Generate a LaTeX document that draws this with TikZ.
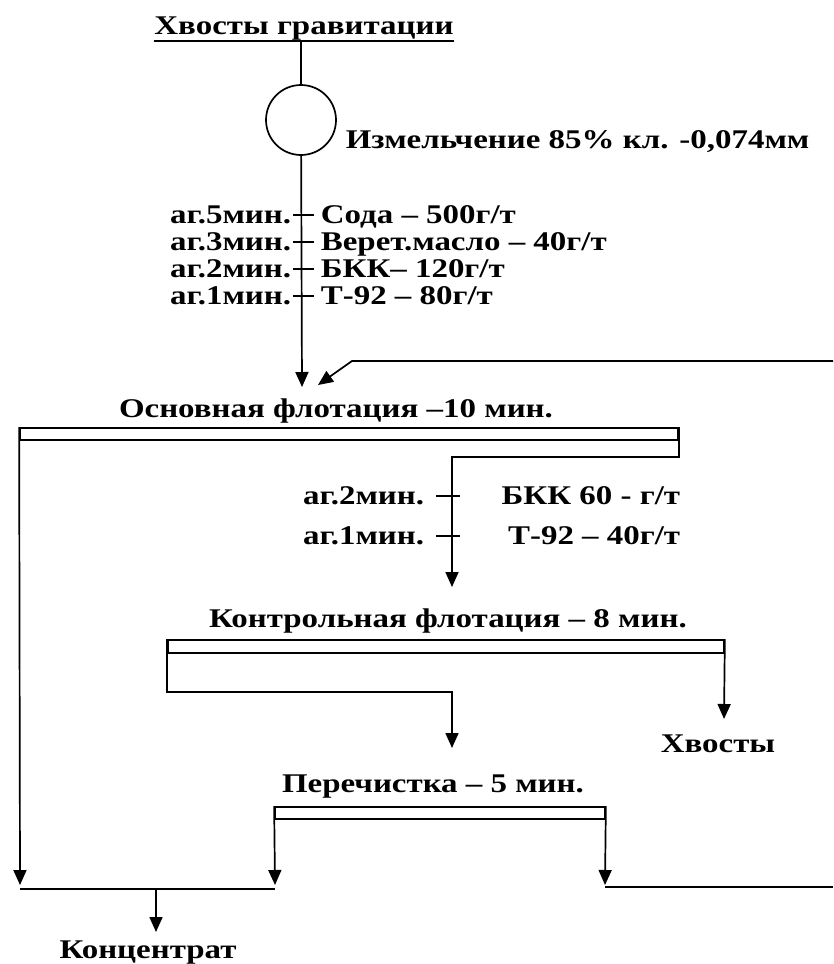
\documentclass[tikz,border=0pt]{standalone}
\usepackage{fontspec}
\setmainfont{Liberation Serif}[BoldFont={Liberation Serif Bold},FakeStretch=1.22]
\usetikzlibrary{arrows.meta}

\tikzset{
  flow/.style={-{Triangle[length=15pt,width=13pt]}},
  cell/.style={draw,rectangle,minimum height=12pt,inner sep=0pt},
  lbl/.style={inner sep=0pt,font=\fontsize{27}{29}\selectfont\bfseries}
}

\begin{document}
\begin{tikzpicture}[x=1pt,y=-1pt,line width=1.7pt]
        \useasboundingbox (0,0) rectangle (833,964);
        \node[lbl,anchor=base] (title) at (304,34) {Хвосты гравитации};
        \draw ([yshift=-7pt]title.base west) -- ([yshift=-7pt]title.base east);
        \coordinate (t0) at (301,41);
        \node[circle,draw,minimum size=70pt,inner sep=0pt] (mill) at (301,120) {};
        \draw (t0) -- (mill);
        \node[lbl,anchor=base west] (grind) at (345,148) {Измельчение 85\% кл. -0,074мм};
        \foreach \i/\y/\a/\b in {1/223/{аг.5мин.}/{Сода – 500г/т},2/250/{аг.3мин.}/{Верет.масло – 40г/т},3/277/{аг.2мин.}/{БКК– 120г/т},4/304/{аг.1мин.}/{Т-92 – 80г/т}} {
          \node[lbl,anchor=base east] (ag\i) at (292,\y) {\a};
          \node[lbl,anchor=base west] (re\i) at (320,\y) {\b};
          \draw (293,\y-8) -- (314,\y-8);
        }
        \coordinate (in1) at (302,387);
        \coordinate (in2) at (318,385);
        \coordinate (rec1) at (833,361);
        \coordinate (rec2) at (352,361);
        \draw[flow] (mill) -- (in1);
        \draw[flow] (rec1) -- (rec2) -- (in2);
        % основная флотация
        \node[lbl,anchor=base] (roughl) at (336,417) {Основная флотация –10 мин.};
        \node[cell,minimum width=658pt] (rough) at (349,434) {};
        \coordinate (conc1) at (20,885);
        \coordinate (scin) at (452,587);
        \draw[flow] (rough.north west) -- (conc1);
        \draw[flow] (rough.north east) |- (452,457) -- (scin);
        \foreach \i/\y/\a/\b in {1/504/{аг.2мин.}/{БКК 60 - г/т},2/544/{аг.1мин.}/{Т-92 – 40г/т}} {
          \node[lbl,anchor=base east] (sag\i) at (425,\y) {\a};
          \node[lbl,anchor=base east] (sre\i) at (681,\y) {\b};
          \draw (436,\y-8) -- (460,\y-8);
        }
        % контрольная флотация
        \node[lbl,anchor=base] (scavl) at (448,627) {Контрольная флотация – 8 мин.};
        \node[cell,minimum width=556pt,minimum height=13pt] (scav) at (446,646.5) {};
        \coordinate (clin) at (452,748);
        \coordinate (tail) at (724,719);
        \draw[flow] (scav.north west) |- (452,692) -- (clin);
        \draw[flow] (scav.north east) -- (tail);
        \node[lbl,anchor=base] (taill) at (718,752) {Хвосты};
        % перечистка
        \node[lbl,anchor=base] (cleanl) at (433,792) {Перечистка – 5 мин.};
        \node[cell,minimum width=330pt] (clean) at (440,813) {};
        \coordinate (conc2) at (275,885);
        \coordinate (mid) at (605,885);
        \coordinate (rec0) at (833,887);
        \draw[flow] (clean.north west) -- (conc2);
        \draw[flow] (clean.north east) -- (mid);
        \draw ([yshift=-2pt]mid) -- (rec0);
        \coordinate (col) at (156,889);
        \coordinate (concin) at (156,932);
        \draw (20,889) -- (275,889);
        \draw[flow] (col) -- (concin);
        \node[lbl,anchor=base] (conc) at (148,958) {Концентрат};
\end{tikzpicture}
\end{document}
